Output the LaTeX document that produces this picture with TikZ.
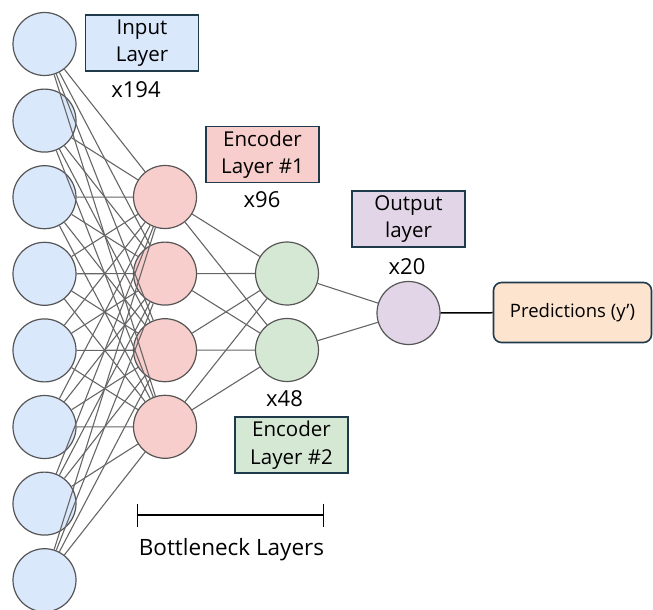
\documentclass[tikz,border=0pt]{standalone}
\usepackage{fontspec}
\setmainfont{Open Sans}
\usetikzlibrary{arrows.meta}
\definecolor{cblue}{HTML}{DAE8FC}
\definecolor{cred}{HTML}{F8CECC}
\definecolor{cgreen}{HTML}{D5E8D4}
\definecolor{cpurple}{HTML}{E1D5E7}
\definecolor{corange}{HTML}{FDE4CF}
\definecolor{circline}{HTML}{555555}
\definecolor{edgegray}{HTML}{666666}
\definecolor{boxline}{HTML}{1F3A4A}
\begin{document}
\begin{tikzpicture}[x=1pt,y=-1pt,
  neuron/.style={circle, draw=circline, line width=1.2pt, minimum size=63pt, inner sep=0pt},
  lblbox/.style={draw=boxline, line width=1.6pt, minimum width=113pt, minimum height=56pt, align=center, inner sep=0pt, font=\fontsize{20.5}{27.5}\selectfont},
  counttxt/.style={anchor=base, inner sep=0pt, font=\fontsize{22}{26}\selectfont},
  edge/.style={draw=edgegray, line width=1.1pt}]
\useasboundingbox (0,0) rectangle (653,610);
% input layer
\foreach \i in {1,...,8} {
  \node[neuron, fill=cblue] (in\i) at (44.5, {44+76.6*(\i-1)}) {};
}
% encoder 1
\foreach \i in {1,...,4} {
  \node[neuron, fill=cred] (e\i) at (165, {197+76.6*(\i-1)}) {};
}
% encoder 2
\node[neuron, fill=cgreen] (g1) at (287, 273.5) {};
\node[neuron, fill=cgreen] (g2) at (287, 350) {};
% output
\node[neuron, fill=cpurple] (o1) at (408.5, 313) {};
% predictions
\node[draw=boxline, line width=1.6pt, rounded corners=8pt, fill=corange, minimum width=158pt, minimum height=60pt, inner sep=0pt, font=\fontsize{18.5}{22}\selectfont] (pred) at (572.5, 312.5) {Predictions (y’)};
% edges
\foreach \i in {1,...,8} {
  \foreach \j in {1,...,4} {
    \draw[edge] (in\i) -- (e\j);
  }
}
\foreach \j in {1,...,4} {
  \draw[edge] (e\j) -- (g1);
  \draw[edge] (e\j) -- (g2);
}
\draw[edge] (g1) -- (o1);
\draw[edge] (g2) -- (o1);
\draw[black, line width=1.5pt] (o1) -- (pred);
% labels
\node[lblbox, fill=cblue] (lin) at (142, 43) {Input\\Layer};
\node[counttxt] (cin) at (136, 97) {x194};
\node[lblbox, fill=cred] (le1) at (262.5, 154.5) {Encoder\\Layer \#1};
\node[counttxt] (ce1) at (262, 207) {x96};
\node[lblbox, fill=cpurple] (lout) at (408.5, 219) {Output\\layer};
\node[counttxt] (cout) at (407, 274) {x20};
\node[counttxt] (ce2) at (284.5, 406) {x48};
\node[lblbox, fill=cgreen] (le2) at (291.5, 445) {Encoder\\Layer \#2};
% bottleneck bracket
\coordinate (bl) at (137, 515);
\coordinate (br) at (324, 515);
\draw[black, line width=1.3pt, {Bar[width=23pt]}-{Bar[width=23pt]}] (bl) -- (br);
\node[anchor=base, inner sep=0pt, font=\fontsize{22.5}{26}\selectfont] (bn) at (231.5, 555) {Bottleneck Layers};
\end{tikzpicture}
\end{document}
